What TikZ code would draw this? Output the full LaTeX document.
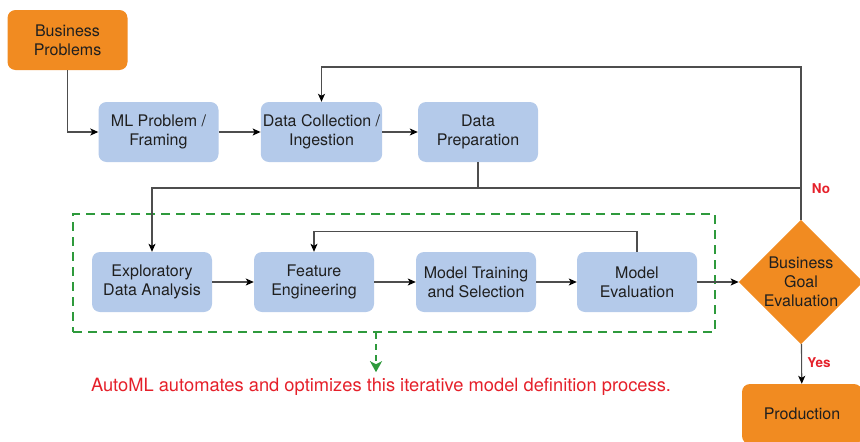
\documentclass[tikz,border=0pt]{standalone}
\usepackage{fontspec}
\setmainfont{TeX Gyre Heros}
\usetikzlibrary{arrows.meta,positioning,calc,shapes.geometric}
\definecolor{boxblue}{HTML}{B4CAEA}
\definecolor{boxorange}{HTML}{F18B21}
\definecolor{lineg}{HTML}{4D4D4D}
\definecolor{autogreen}{HTML}{2E9A3C}
\definecolor{notered}{HTML}{E5202A}
\tikzset{
  stage/.style  = {fill=boxblue, rounded corners=8pt, minimum width=120pt,
                   minimum height=60pt, align=center, inner sep=2pt},
  bizbox/.style = {stage, fill=boxorange},
  decide/.style = {diamond, fill=boxorange, aspect=1, minimum size=120pt,
                   inner sep=0pt, align=center},
  link/.style   = {draw=lineg, line width=1.1pt,
                   -{Stealth[length=8pt,width=7pt,inset=2pt,color=black]}},
  wire/.style   = {draw=lineg, line width=1.1pt},
  zone/.style   = {draw=autogreen, line width=2.4pt, dash pattern=on 9pt off 6pt},
  zonearrow/.style = {draw=autogreen, line width=2.4pt, dash pattern=on 6pt off 5pt,
                   -{Stealth[length=11pt,width=12pt,inset=3pt,color=autogreen]}},
  tag/.style    = {text=notered, font=\fontsize{13.5}{15}\selectfont\bfseries},
}
\begin{document}
\begin{tikzpicture}[x=1pt,y=-1pt,font=\fontsize{16}{19}\selectfont,text=black!88]
\useasboundingbox (0,0) rectangle (860,442);
% upper row
\node[bizbox] (bp)  at (67.5,40)  {Business\\Problems};
\node[stage]  (mlp) at (158.5,132) {ML Problem /\\Framing};
\node[stage]  (dc)  at (321.5,132) {Data Collection /\\Ingestion};
\node[stage]  (dp)  at (478,132)   {Data\\Preparation};
% model definition loop
\node[zone, minimum width=642pt, minimum height=118pt] (loop) at (394,273) {};
\node[stage]  (eda) at (152,282) {Exploratory\\Data Analysis};
\node[stage]  (fe)  at (314,282) {Feature\\Engineering};
\node[stage]  (mt)  at (476,282) {Model Training\\and Selection};
\node[stage]  (me)  at (637,282) {Model\\Evaluation};
% decision
\node[decide] (bge)  at (801,282) {Business\\Goal\\Evaluation};
\node[bizbox] (prod) at (802,414) {Production};
\coordinate (back) at (801,67);
\coordinate (split) at (478,188);
\draw[link] (bp.south) |- (mlp.west);
\draw[link] (mlp) -- (dc);
\draw[link] (dc) -- (dp);
\draw[link] (dp.south) -- (split) -| (eda.north);
\draw[wire] (bge.north |- split) -- (split);
\draw[link] (bge.north) -- (back) -| (dc.north);
\draw[link] (eda) -- (fe);
\draw[link] (fe) -- (mt);
\draw[link] (mt) -- (me);
\draw[link] (me.north) -- ++(0,-20) -| (fe.north);
\draw[link] (me) -- (bge);
\draw[link] (bge) -- (prod);
\node[tag] (no)  at (821,189) {No};
\node[tag] (yes) at (819,363) {Yes};
% AutoML note
\coordinate (hint) at ($(loop.south)+(-18,39)$);
\draw[zonearrow] ($(loop.south)+(-18,0)$) -- (hint);
\node[text=notered, font=\fontsize{18.3}{21}\selectfont] (note) at (381,387)
  {AutoML automates and optimizes this iterative model definition process.};
\end{tikzpicture}
\end{document}
